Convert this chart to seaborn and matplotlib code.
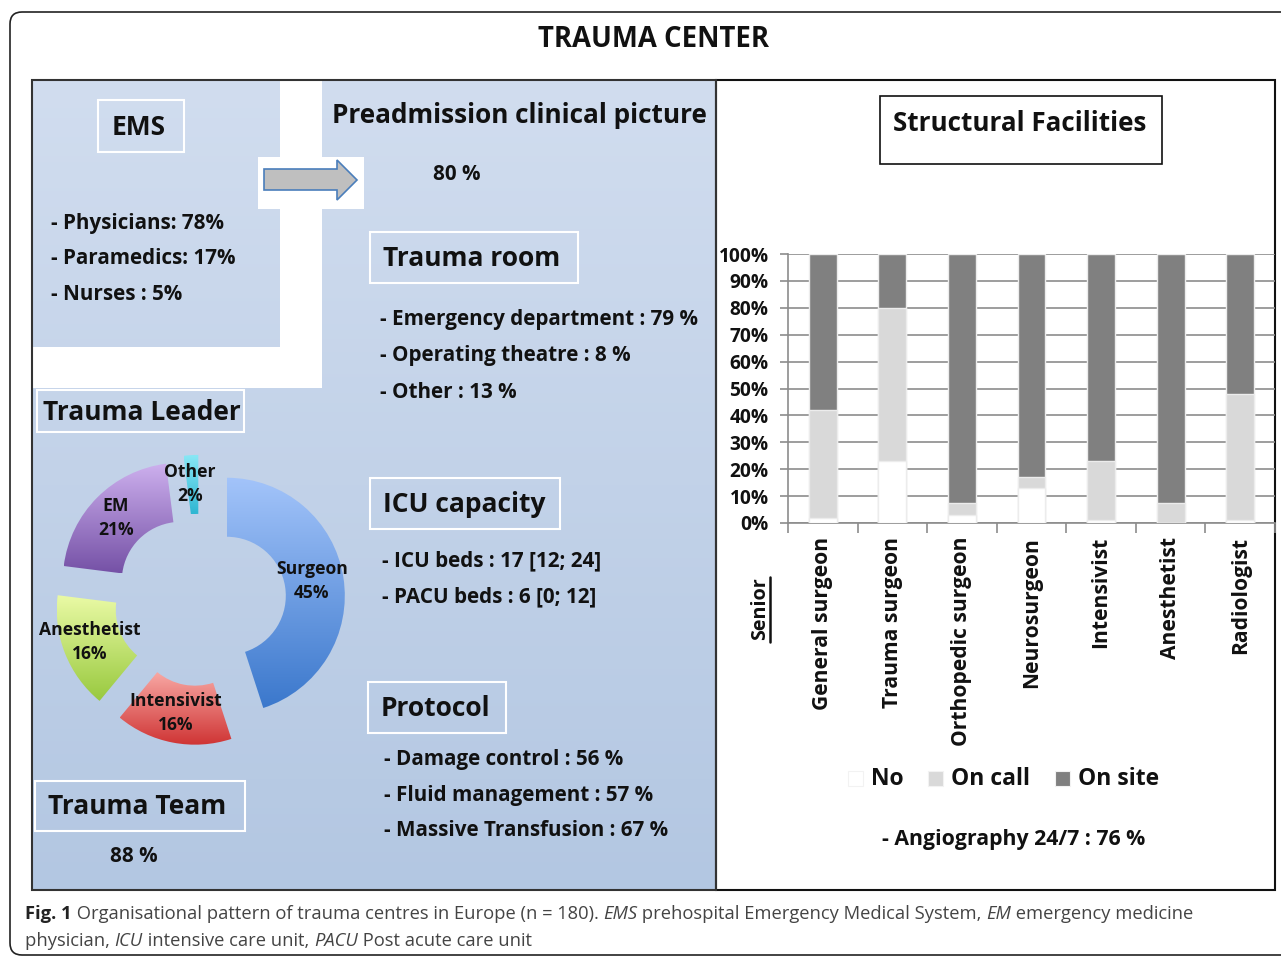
import numpy as np
import pandas as pd
import seaborn as sns
import matplotlib.pyplot as plt
import matplotlib.patches as mpatches
from matplotlib.colors import LinearSegmentedColormap

# --- data -------------------------------------------------------------
seniors = ["General surgeon", "Trauma surgeon", "Orthopedic surgeon",
           "Neurosurgeon", "Intensivist", "Anesthetist", "Radiologist"]
no_pct = [2, 23, 3, 13, 1, 0, 1]
on_call_pct = [40, 57, 4.5, 4, 22, 7.5, 47]
on_site_pct = [58, 20, 92.5, 83, 77, 92.5, 52]

leader_roles = ["Surgeon", "Intensivist", "Anesthetist", "EM", "Other"]
leader_pct = [45, 16, 16, 21, 2]

ems_lines = ["- Physicians: 78%", "- Paramedics: 17%", "- Nurses : 5%"]
trauma_room_lines = ["- Emergency department : 79 %", "- Operating theatre : 8 %",
                     "- Other : 13 %"]
icu_lines = ["- ICU beds : 17 [12; 24]", "- PACU beds : 6 [0; 12]"]
protocol_lines = ["- Damage control : 56 %", "- Fluid management : 57 %",
                  "- Massive Transfusion : 67 %"]
preadmission_pct = "80 %"
trauma_team_pct = "88 %"
angiography = "- Angiography 24/7 : 76 %"

W, H = 1281, 958
INK = '#111111'
BODY = 14.9
HEAD = 19.0

sns.set_theme(style="white")
plt.rcParams['font.family'] = ['Open Sans', 'DejaVu Sans']

fig = plt.figure(figsize=(W / 100, H / 100), dpi=100)
fig.patch.set_facecolor('white')

# background axes in pixel coordinates
bg = fig.add_axes([0, 0, 1, 1])
bg.set_xlim(0, W)
bg.set_ylim(H, 0)
bg.axis('off')

# outer rounded frame
frame = mpatches.FancyBboxPatch((10, 12), 1290, 943,
                                boxstyle="round,pad=0,rounding_size=12",
                                fc='white', ec='#222222', lw=1.2)
bg.add_patch(frame)

bg.text(654, 39, "TRAUMA CENTER", ha='center', va='center',
        fontsize=19.8, fontweight='bold', color=INK)

# left blue panel with gradient
blue = LinearSegmentedColormap.from_list('bl', ['#d1ddef', '#b3c7e2'])
grad = np.linspace(0, 1, 256).reshape(-1, 1)
bg.imshow(grad, cmap=blue, extent=(32, 716, 890, 80), aspect='auto', zorder=1)
for (x0, y0, x1, y1) in [(280, 80, 322, 388), (32, 347, 322, 388),
                         (258, 157, 364, 209)]:
    bg.add_patch(mpatches.Rectangle((x0, y0), x1 - x0, y1 - y0,
                                    fc='white', ec='none', zorder=2))
bg.add_patch(mpatches.Rectangle((32, 80), 684, 810, fc='none',
                                ec='#333333', lw=1.5, zorder=3))

# right white panel
bg.add_patch(mpatches.Rectangle((716, 80), 559, 810, fc='white',
                                ec='#111111', lw=1.5, zorder=1))

# arrow
arrow_pts = [(264, 169), (337, 169), (337, 160), (357, 180),
             (337, 200), (337, 190), (264, 190)]
bg.add_patch(mpatches.Polygon(arrow_pts, closed=True, fc='#bfbfbf',
                              ec='#4a7ebb', lw=1.2, zorder=4))

# heading boxes
def head_box(x0, y0, x1, y1, label, tx, size, ec='white', lw=1.5):
    bg.add_patch(mpatches.Rectangle((x0, y0), x1 - x0, y1 - y0, fc='none',
                                    ec=ec, lw=lw, zorder=4))
    return bg.text(tx, (y0 + y1) / 2 + 1, label, ha='left', va='center',
                   fontsize=size, fontweight='bold', color=INK, zorder=5)

head_box(98, 100, 184, 152, "EMS", 112, HEAD)
head_box(370, 232, 578, 283, "Trauma room", 383, HEAD)
head_box(37, 390, 244, 432, "Trauma Leader", 43, HEAD)
head_box(370, 478, 560, 529, "ICU capacity", 383, HEAD)
head_box(368, 682, 506, 733, "Protocol", 381, HEAD)
head_box(35, 781, 245, 831, "Trauma Team", 48, HEAD)
sf = head_box(880, 96, 1162, 164, "Structural Facilities", 893, 18.7,
              ec='#111111', lw=1.2)
sf.set_y(123)

bg.text(332, 115, "Preadmission clinical picture", ha='left', va='center',
        fontsize=18.8, fontweight='bold', color=INK, zorder=5)

def lines_at(x, y0, step, lines, size=BODY):
    for i, s in enumerate(lines):
        bg.text(x, y0 + i * step, s, ha='left', va='center', fontsize=size,
                fontweight='bold', color=INK, zorder=5)

lines_at(51, 223, 36, ems_lines)
lines_at(380, 320, 36, trauma_room_lines)
lines_at(382, 561, 36, icu_lines)
lines_at(384, 759, 36, protocol_lines)
bg.text(457, 174, preadmission_pct, ha='center', va='center', fontsize=BODY,
        fontweight='bold', color=INK, zorder=5)
bg.text(134, 857, trauma_team_pct, ha='center', va='center', fontsize=BODY,
        fontweight='bold', color=INK, zorder=5)

# --- donut (trauma leader) --------------------------------------------
cx, cy, R, L = 200, 600, 118, 1.6
side = 2 * L * R
dax = fig.add_axes([(cx - side / 2) / W, (H - cy - side / 2) / H, side / W, side / H])
dax.axis('off')
dax.patch.set_alpha(0)
wedges, _ = dax.pie(leader_pct, radius=1, startangle=90, counterclock=False,
                    explode=[0.23] * len(leader_pct),
                    wedgeprops=dict(width=0.5, lw=0))
dax.set_aspect('auto')
grad_cols = [('#a3c4fa', '#3b78cc'), ('#f8a8a4', '#cf3434'),
             ('#eafaa6', '#98c93e'), ('#cdb0ee', '#7551a6'),
             ('#8ae8f6', '#2eb6d2')]
for w, (c0, c1) in zip(wedges, grad_cols):
    w.set_alpha(0)
    ext = w.get_path().get_extents()
    cm = LinearSegmentedColormap.from_list('g', [c0, c1])
    im = dax.imshow(grad, cmap=cm, extent=(ext.x0, ext.x1, ext.y0, ext.y1),
                    aspect='auto', zorder=2, origin='upper')
    im.set_clip_path(w)
dax.set_xlim(-L, L)
dax.set_ylim(-L, L)

leader_label_pos = [(312, 581), (176, 713), (90, 642), (116, 518), (190, 484)]
for role, pct, (lx, ly) in zip(leader_roles, leader_pct, leader_label_pos):
    fig.text(lx / W, 1 - ly / H, f"{role}\n{pct}%", ha='center', va='center',
             fontsize=12.6, fontweight='bold', color=INK,
             linespacing=1.45, zorder=10)

# --- stacked bar chart (structural facilities) -----------------------
ax_l, ax_r, ax_t, ax_b = 788, 1275, 254, 523
ax = fig.add_axes([ax_l / W, (H - ax_b) / H, (ax_r - ax_l) / W, (ax_b - ax_t) / H])
ax.patch.set_alpha(0)
df = pd.DataFrame({"senior": seniors, "no": no_pct,
                   "on_call": on_call_pct, "on_site": on_site_pct})
df["lvl_site"] = df["no"] + df["on_call"] + df["on_site"]
df["lvl_call"] = df["no"] + df["on_call"]
df["lvl_no"] = df["no"]
for col, color in [("lvl_site", "#808080"), ("lvl_call", "#d9d9d9"),
                   ("lvl_no", "#ffffff")]:
    sns.barplot(data=df, x="senior", y=col, color=color, width=0.4,
                saturation=1, edgecolor='#ececec', linewidth=1, ax=ax, zorder=3)
ax.set_ylim(0, 100)
ax.set_xlim(-0.5, len(seniors) - 0.5)
ax.set_yticks(np.arange(0, 101, 10))
ax.set_yticklabels([f"{v}%" for v in range(0, 101, 10)], fontsize=13.8,
                   fontweight='bold', color=INK)
ax.yaxis.grid(True, color='#8c8c8c', lw=1.2, zorder=0)
ax.xaxis.grid(False)
ax.set_axisbelow(True)
ax.set_xlabel("")
ax.set_ylabel("")
ax.set_xticks(range(len(seniors)))
ax.set_xticklabels(seniors, rotation=90, fontsize=15.1, fontweight='bold',
                   color=INK, va='top')
ax.set_xticks(np.arange(-0.5, len(seniors), 1), minor=True)
ax.tick_params(axis='x', which='major', length=0, pad=10)
ax.tick_params(axis='x', which='minor', length=7, color='#8c8c8c', width=1.2,
               direction='out', bottom=True)
ax.tick_params(axis='y', length=6, color='#8c8c8c', width=1.2, left=True, pad=8)
for s in ['top', 'right']:
    ax.spines[s].set_visible(False)
for s in ['left', 'bottom']:
    ax.spines[s].set_color('#8c8c8c')
    ax.spines[s].set_linewidth(1.2)

bg.text(760, 609, "Senior", rotation=90, ha='center', va='center',
        fontsize=14.2, fontweight='bold', color=INK, zorder=5)
bg.plot([770, 770], [577, 642], color=INK, lw=1.8, zorder=5)

# legend
for (sx, name, color) in [(848, "No", "#ffffff"), (928, "On call", "#d9d9d9"),
                          (1055, "On site", "#808080")]:
    bg.add_patch(mpatches.Rectangle((sx, 771), 15, 15, fc=color,
                                    ec='#f2f2f2', lw=0.8, zorder=5))
    bg.text(sx + 23, 779, name, ha='left', va='center', fontsize=16.5,
            fontweight='bold', color=INK, zorder=5)

bg.text(1014, 839, angiography, ha='center', va='center', fontsize=15.3,
        fontweight='bold', color=INK, zorder=5)

# --- caption with mixed styles ---------------------------------------
fig.canvas.draw()
renderer = fig.canvas.get_renderer()

def caption_line(x, y, runs):
    for txt, style in runs:
        kw = dict(fontsize=13.2, color='#444444', va='center', ha='left', zorder=5)
        if style == 'b':
            kw.update(fontweight='bold', color='#222222')
        elif style == 'i':
            kw.update(fontstyle='italic')
        t = bg.text(x, y, txt, **kw)
        bb = t.get_window_extent(renderer=renderer)
        x += bb.width

caption_line(25, 914, [("Fig. 1", 'b'),
                       (" Organisational pattern of trauma centres in Europe (n = 180). ", 'n'),
                       ("EMS", 'i'), (" prehospital Emergency Medical System, ", 'n'),
                       ("EM", 'i'), (" emergency medicine", 'n')])
caption_line(25, 941, [("physician, ", 'n'), ("ICU", 'i'),
                       (" intensive care unit, ", 'n'), ("PACU", 'i'),
                       (" Post acute care unit", 'n')])

fig.savefig("out.png", dpi=100)
